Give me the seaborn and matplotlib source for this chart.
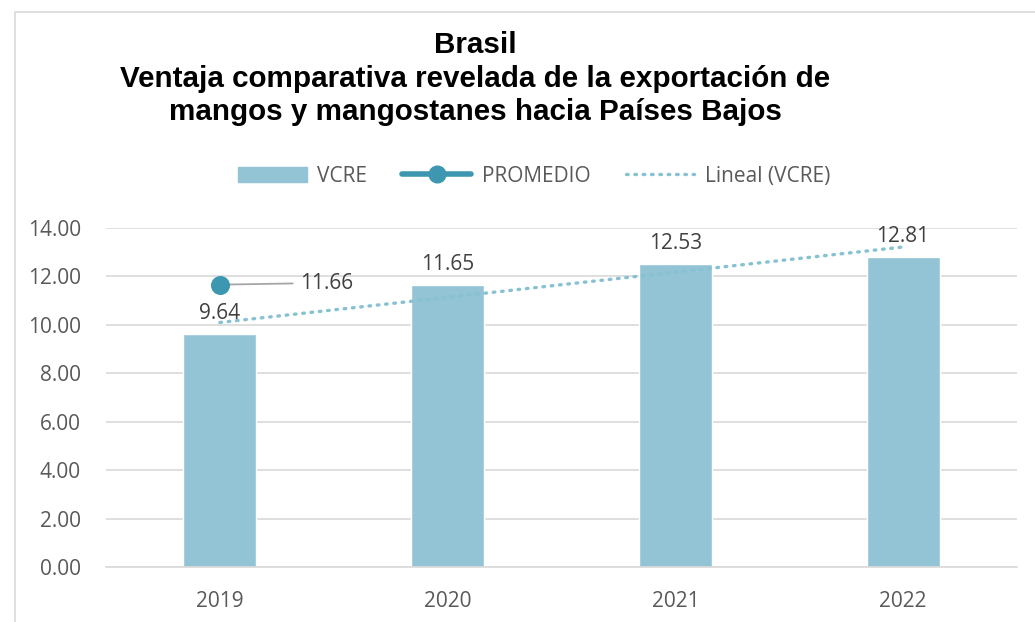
import numpy as np
import pandas as pd
import matplotlib
matplotlib.use("Agg")
import matplotlib.pyplot as plt
import seaborn as sns
from matplotlib.lines import Line2D
from matplotlib.patches import Patch, Rectangle

years = ["2019", "2020", "2021", "2022"]
vcre = [9.64, 11.65, 12.53, 12.81]
promedio_year = ["2019"]
promedio = [11.66]
yticks = [0, 2, 4, 6, 8, 10, 12, 14]

sns.set_theme(style="white")
plt.rcParams['font.family'] = ['Open Sans', 'DejaVu Sans']

bar_c = "#92C4D5"
prom_c = "#3D97B0"
trend_c = "#86C2D2"
txt_c = "#404040"
fs = 15

fig = plt.figure(figsize=(10.35, 6.22), dpi=100)
ax = fig.add_axes([106/1035, 1 - 567/622, (1017-106)/1035, (567-228)/622])

df = pd.DataFrame({"year": years, "vcre": vcre})
sns.barplot(data=df, x="year", y="vcre", color=bar_c, saturation=1, width=0.32, ax=ax, zorder=2)

# trend line (linear fit)
xs = np.arange(len(vcre))
m, b = np.polyfit(xs, vcre, 1)
ax.plot([xs[0], xs[-1]], [m*xs[0]+b, m*xs[-1]+b], color=trend_c, lw=2.4,
        linestyle=(0, (0.5, 2.0)), dash_capstyle="round", zorder=3)

# promedio point
px = [years.index(y) for y in promedio_year]
sns.scatterplot(x=px, y=promedio, color=prom_c, s=160, ax=ax, zorder=5, edgecolor=prom_c, legend=False)
ax.plot([px[0], px[0] + 0.32], [promedio[0], promedio[0] + 0.05], color="#A6A6A6", lw=1.3, zorder=4)
ax.text(px[0] + 0.35, promedio[0] + 0.06, f"{promedio[0]:.2f}", fontsize=fs, color=txt_c,
        va="center", ha="left")

for i, v in enumerate(vcre):
    ax.text(i, v + 0.4, f"{v:.2f}", ha="center", va="bottom", fontsize=fs, color=txt_c)

ax.set_xlim(-0.5, 3.5)
ax.set_ylim(0, 14)
ax.set_yticks(yticks)
ax.set_yticklabels([f"{t:.2f}" for t in yticks])
ax.yaxis.grid(True, color="#D9D9D9", lw=1.2, zorder=0)
ax.set_axisbelow(True)
for s in ["top", "right", "left"]:
    ax.spines[s].set_visible(False)
ax.spines["bottom"].set_color("#D9D9D9")
ax.spines["bottom"].set_linewidth(1.2)
ax.tick_params(axis="both", length=0, labelsize=fs, labelcolor="#595959")
ax.tick_params(axis="x", pad=17)
ax.tick_params(axis="y", pad=18)
ax.set_xlabel("")
ax.set_ylabel("")

tfs = 21.3
fig.text(475/1035, 1 - 45/622, "Brasil", ha="center", va="center", fontsize=tfs, fontweight="bold",
         family="Liberation Sans", color="black")
fig.text(475/1035, 1 - 79/622, "Ventaja comparativa revelada de la exportación de", ha="center", va="center",
         fontsize=tfs, fontweight="bold", family="Liberation Sans", color="black")
fig.text(475/1035, 1 - 112/622, "mangos y mangostanes hacia Países Bajos", ha="center", va="center",
         fontsize=tfs, fontweight="bold", family="Liberation Sans", color="black")

handles = [Patch(facecolor=bar_c, edgecolor=bar_c),
           Line2D([0], [0], color=prom_c, lw=4, marker="o", markersize=12, solid_capstyle="round"),
           Line2D([0], [0], color=trend_c, lw=2.4, linestyle=(0, (0.5, 2.0)), dash_capstyle="round")]
leg = fig.legend(handles, ["VCRE", "PROMEDIO", "Lineal (VCRE)"], loc="center",
                 bbox_to_anchor=(534/1035, 1 - 176/622), ncol=3, frameon=False, fontsize=fs,
                 handlelength=3.3, columnspacing=1.7, handletextpad=0.5)
for t in leg.get_texts():
    t.set_color("#595959")

fig.patches.append(Rectangle((15/1035, -0.01), 1.1, 1 - 12/622 + 0.01, transform=fig.transFigure,
                             fill=False, edgecolor="#D9D9D9", lw=1.2))

fig.savefig("out.png", dpi=100)
